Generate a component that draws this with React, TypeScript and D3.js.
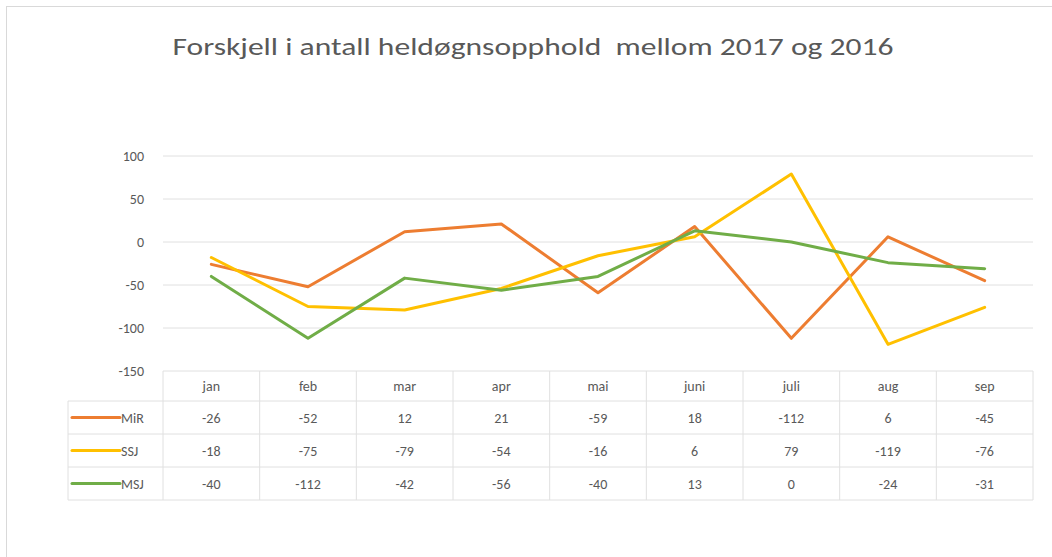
import React from "react";
import * as d3 from "d3";

const categories = ["jan", "feb", "mar", "apr", "mai", "juni", "juli", "aug", "sep"];
const seriesNames = ["MiR", "SSJ", "MSJ"];
const mirValues = [-26, -52, 12, 21, -59, 18, -112, 6, -45];
const ssjValues = [-18, -75, -79, -54, -16, 6, 79, -119, -76];
const msjValues = [-40, -112, -42, -56, -40, 13, 0, -24, -31];
const yTicks = [100, 50, 0, -50, -100, -150];
const colors = ["#ED7D31", "#FFC000", "#70AD47"];
const title = "Forskjell i antall heldøgnsopphold  mellom 2017 og 2016";

export default function App() {
  const W = 1052, H = 557;
  const left = 163, right = 1033;
  const yTop = 156, yBottom = 371;
  const rowH = 33;
  const headerH = 30;
  const legendLeft = 68;
  const series = [mirValues, ssjValues, msjValues];

  const x = d3.scaleBand<string>().domain(categories).range([left, right]);
  const y = d3.scaleLinear().domain([-150, 100]).range([yBottom, yTop]);
  const line = d3
    .line<number>()
    .x((_, i) => (x(categories[i]) as number) + x.bandwidth() / 2)
    .y((d) => y(d));

  const font = "Calibri, Carlito, 'Open Sans', sans-serif";
  const txt = "#595959";
  const grid = "#e0e0e0";
  const tableTop = yBottom;
  const rowTops = [tableTop + headerH, tableTop + headerH + rowH, tableTop + headerH + 2 * rowH];
  const tableBottom = tableTop + headerH + 3 * rowH;

  return (
    <svg width={W} height={H} style={{ position: "absolute", left: 0, top: 0, background: "#fff" }}>
      <rect x={0} y={0} width={W} height={H} fill="#fff" />
      <line x1={6.5} y1={6} x2={6.5} y2={H} stroke="#d9d9d9" strokeWidth={1} />
      <line x1={6} y1={6.5} x2={W} y2={6.5} stroke="#d9d9d9" strokeWidth={1} />
      <text
        x={533}
        y={55}
        textAnchor="middle"
        fontFamily={font}
        fontSize={25}
        fill={txt}
        textLength={721}
        lengthAdjust="spacingAndGlyphs"
        style={{ whiteSpace: "pre" }}
      >
        {title}
      </text>
      {yTicks.map((t) => (
        <g key={t}>
          {t !== -150 && (
            <line x1={left} x2={right} y1={y(t)} y2={y(t)} stroke={grid} strokeWidth={1} />
          )}
          <text x={144} y={y(t) + 5} textAnchor="end" fontFamily={font} fontSize={14} fill={txt}>
            {t}
          </text>
        </g>
      ))}
      {/* table grid */}
      <line x1={left} x2={right} y1={tableTop} y2={tableTop} stroke={grid} />
      {rowTops.map((r) => (
        <line key={r} x1={legendLeft} x2={right} y1={r} y2={r} stroke={grid} />
      ))}
      <line x1={legendLeft} x2={right} y1={tableBottom} y2={tableBottom} stroke={grid} />
      <line x1={legendLeft} x2={legendLeft} y1={rowTops[0]} y2={tableBottom} stroke={grid} />
      {categories.map((c) => (
        <line
          key={c}
          x1={x(c) as number}
          x2={x(c) as number}
          y1={tableTop}
          y2={tableBottom}
          stroke={grid}
        />
      ))}
      <line x1={right} x2={right} y1={tableTop} y2={tableBottom} stroke={grid} />
      {categories.map((c) => (
        <text
          key={c}
          x={(x(c) as number) + x.bandwidth() / 2}
          y={tableTop + headerH / 2 + 5}
          textAnchor="middle"
          fontFamily={font}
          fontSize={14}
          fill={txt}
        >
          {c}
        </text>
      ))}
      {series.map((vals, si) => (
        <g key={seriesNames[si]}>
          <line
            x1={72}
            x2={120}
            y1={rowTops[si] + rowH / 2}
            y2={rowTops[si] + rowH / 2}
            stroke={colors[si]}
            strokeWidth={3}
            strokeLinecap="round"
          />
          <text
            x={121}
            y={rowTops[si] + rowH / 2 + 5}
            fontFamily={font}
            fontSize={14}
            fill={txt}
          >
            {seriesNames[si]}
          </text>
          {vals.map((v, i) => (
            <text
              key={i}
              x={(x(categories[i]) as number) + x.bandwidth() / 2}
              y={rowTops[si] + rowH / 2 + 5}
              textAnchor="middle"
              fontFamily={font}
              fontSize={14}
              fill={txt}
            >
              {v}
            </text>
          ))}
        </g>
      ))}
      {series.map((vals, si) => (
        <path
          key={si}
          d={line(vals) as string}
          fill="none"
          stroke={colors[si]}
          strokeWidth={3}
          strokeLinejoin="round"
          strokeLinecap="round"
        />
      ))}
    </svg>
  );
}
